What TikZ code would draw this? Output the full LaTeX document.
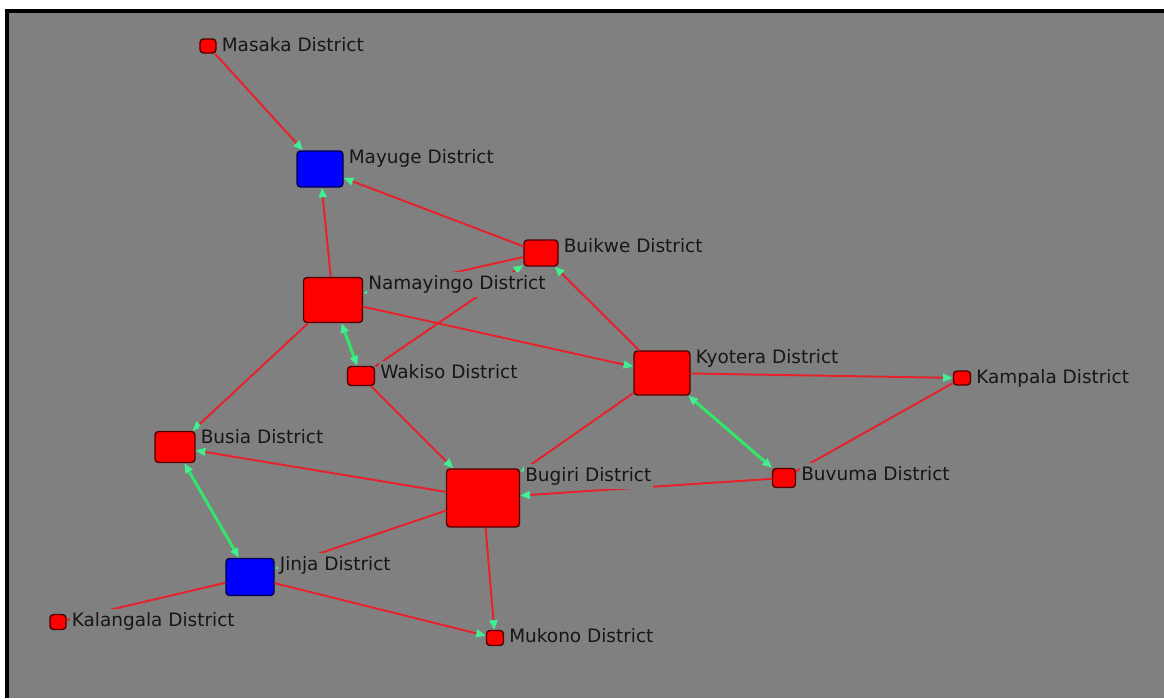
\documentclass[tikz,border=0pt]{standalone}
\usepackage{fontspec}
\setmainfont{DejaVu Sans}
\usetikzlibrary{arrows.meta, positioning}
\definecolor{bggrey}{HTML}{808080}
\definecolor{nodered}{HTML}{FF0000}
\definecolor{nodeblue}{HTML}{0000FF}
\definecolor{linkred}{HTML}{E8202A}
\definecolor{linkgreen}{HTML}{30E868}
\definecolor{tipgreen}{HTML}{40F090}
\definecolor{labeltext}{HTML}{161616}
\tikzset{>={Triangle[length=5.5pt,width=4.5pt,color=tipgreen]}}
\tikzset{
  dist/.style={draw=black!70!red, line width=0.8pt, fill=nodered, rounded corners=2pt, inner sep=0pt},
  hub/.style={dist, draw=black!70!blue, fill=nodeblue},
  link/.style={draw=linkred, line width=1.1pt},
  pair/.style={draw=linkgreen, line width=1.7pt, <->},
  distlabel/.style={fill=bggrey, text=labeltext, font=\fontsize{10.5}{12}\selectfont, inner xsep=1pt, inner ysep=2pt, anchor=base west}
}

\begin{document}
\begin{tikzpicture}
        \useasboundingbox (0,0) rectangle (23.28,-13.96);
        \fill[white] (0,0) rectangle (23.28,-13.96);
        \fill[black] (0.10,-0.18) rectangle (23.28,-13.96);
        \fill[bggrey] (0.18,-0.26) rectangle (23.28,-13.96);

        % districts
        \node[dist, minimum width=0.32cm, minimum height=0.28cm] (masaka) at (4.16,-0.92) {};
        \node[hub, minimum width=0.92cm, minimum height=0.72cm] (mayuge) at (6.40,-3.38) {};
        \node[dist, minimum width=0.68cm, minimum height=0.52cm] (buikwe) at (10.82,-5.06) {};
        \node[dist, minimum width=1.18cm, minimum height=0.90cm] (namayingo) at (6.66,-6.00) {};
        \node[dist, minimum width=0.54cm, minimum height=0.38cm] (wakiso) at (7.22,-7.52) {};
        \node[dist, minimum width=1.12cm, minimum height=0.88cm] (kyotera) at (13.24,-7.46) {};
        \node[dist, minimum width=0.34cm, minimum height=0.28cm] (kampala) at (19.24,-7.56) {};
        \node[dist, minimum width=0.80cm, minimum height=0.62cm] (busia) at (3.50,-8.94) {};
        \node[dist, minimum width=1.46cm, minimum height=1.16cm] (bugiri) at (9.66,-9.96) {};
        \node[dist, minimum width=0.46cm, minimum height=0.38cm] (buvuma) at (15.68,-9.56) {};
        \node[hub, minimum width=0.96cm, minimum height=0.74cm] (jinja) at (5.00,-11.54) {};
        \node[dist, minimum width=0.32cm, minimum height=0.30cm] (kalangala) at (1.16,-12.44) {};
        \node[dist, minimum width=0.34cm, minimum height=0.30cm] (mukono) at (9.90,-12.76) {};

        % links
        \draw[link,->] (masaka) -- (mayuge);
        \draw[link,->] (buikwe) -- (mayuge);
        \draw[link,->] (namayingo) -- (mayuge);
        \draw[link,->] (buikwe) -- (namayingo);
        \draw[link,->] (wakiso) -- (buikwe);
        \draw[link,->] (namayingo) -- (kyotera);
        \draw[link,->] (namayingo) -- (busia);
        \draw[link,->] (wakiso) -- (bugiri);
        \draw[link,->] (kyotera) -- (buikwe);
        \draw[link,->] (kyotera) -- (kampala);
        \draw[link] (buvuma) -- (kampala);
        \draw[link,->] (buvuma) -- (bugiri);
        \draw[link,->] (kyotera) -- (bugiri);
        \draw[link,->] (bugiri) -- (busia);
        \draw[link,->] (bugiri) -- (jinja);
        \draw[link,->] (bugiri) -- (mukono);
        \draw[link,->] (jinja) -- (mukono);
        \draw[link] (jinja) -- (kalangala);
        \draw[pair] (namayingo) -- (wakiso);
        \draw[pair] (kyotera) -- (buvuma);
        \draw[pair] (busia) -- (jinja);

        % names
        \node[distlabel] (masakaT) at ([xshift=0.06cm,yshift=-0.26cm]masaka.north east) {Masaka District};
        \node[distlabel] (mayugeT) at ([xshift=0.06cm,yshift=-0.26cm]mayuge.north east) {Mayuge District};
        \node[distlabel] (buikweT) at ([xshift=0.06cm,yshift=-0.26cm]buikwe.north east) {Buikwe District};
        \node[distlabel] (namayingoT) at ([xshift=0.06cm,yshift=-0.26cm]namayingo.north east) {Namayingo District};
        \node[distlabel] (wakisoT) at ([xshift=0.06cm,yshift=-0.26cm]wakiso.north east) {Wakiso District};
        \node[distlabel] (kyoteraT) at ([xshift=0.06cm,yshift=-0.26cm]kyotera.north east) {Kyotera District};
        \node[distlabel] (kampalaT) at ([xshift=0.06cm,yshift=-0.26cm]kampala.north east) {Kampala District};
        \node[distlabel] (busiaT) at ([xshift=0.06cm,yshift=-0.26cm]busia.north east) {Busia District};
        \node[distlabel] (bugiriT) at ([xshift=0.06cm,yshift=-0.26cm]bugiri.north east) {Bugiri District};
        \node[distlabel] (buvumaT) at ([xshift=0.06cm,yshift=-0.26cm]buvuma.north east) {Buvuma District};
        \node[distlabel] (jinjaT) at ([xshift=0.06cm,yshift=-0.26cm]jinja.north east) {Jinja District};
        \node[distlabel] (kalangalaT) at ([xshift=0.06cm,yshift=-0.26cm]kalangala.north east) {Kalangala District};
        \node[distlabel] (mukonoT) at ([xshift=0.06cm,yshift=-0.26cm]mukono.north east) {Mukono District};
\end{tikzpicture}
\end{document}
